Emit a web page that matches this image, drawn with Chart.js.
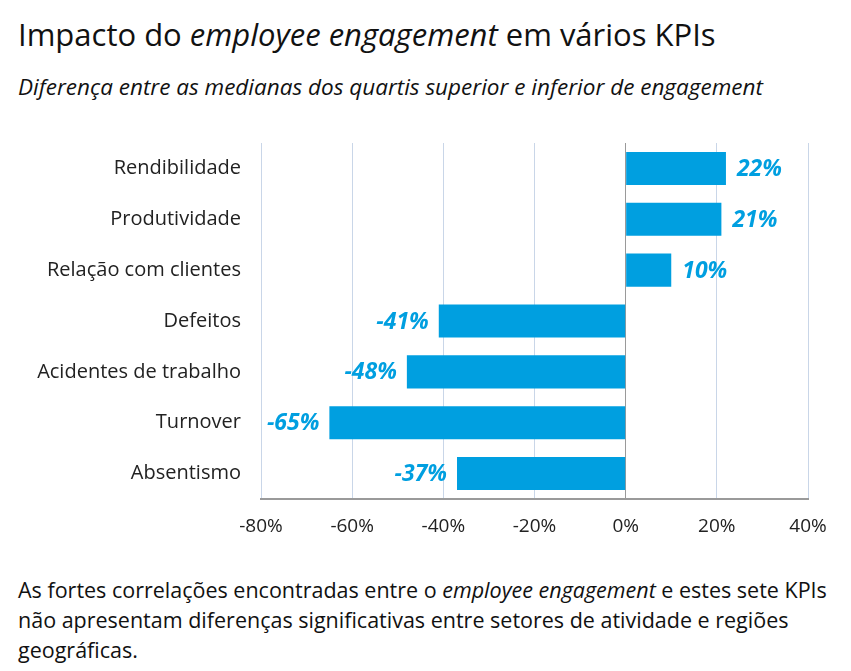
<!DOCTYPE html>
<html><head><meta charset="utf-8">
<script src="https://cdn.jsdelivr.net/npm/chart.js@4"></script>
<style>
html,body{margin:0;padding:0;background:#fff;width:851px;height:671px;overflow:hidden;font-family:"Open Sans","Liberation Sans",sans-serif;color:#111;}
#title{position:absolute;left:18px;top:13px;font-size:31px;white-space:nowrap;}
#sub{position:absolute;left:18px;top:71px;font-size:22.5px;font-style:italic;white-space:nowrap;}
#wrap{position:absolute;left:0;top:111px;width:851px;height:439px;}
#foot{position:absolute;left:18px;top:575px;font-size:21.5px;line-height:30px;white-space:nowrap;}
</style></head>
<body>
<div id="title">Impacto do <i>employee engagement</i> em vários KPIs</div>
<div id="sub">Diferença entre as medianas dos quartis superior e inferior de engagement</div>
<div id="wrap"><canvas id="c"></canvas></div>
<div id="foot">As fortes correlações encontradas entre o <i>employee engagement</i> e estes sete KPIs<br>não apresentam diferenças significativas entre setores de atividade e regiões<br>geográficas.</div>
<script>
const categories = ["Rendibilidade","Produtividade","Relação com clientes","Defeitos","Acidentes de trabalho","Turnover","Absentismo"];
const values = [22,21,10,-41,-48,-65,-37];
const tickValues = [-80,-60,-40,-20,0,20,40];
const barColor = "#009fe0";
const FONT = "'Open Sans', 'Liberation Sans', sans-serif";

const labelPlugin = {
  id:'vlabels',
  afterDatasetsDraw(chart){
    const ctx = chart.ctx;
    const meta = chart.getDatasetMeta(0);
    ctx.save();
    ctx.font = "italic bold 23px " + FONT;
    ctx.fillStyle = barColor;
    ctx.textBaseline = 'middle';
    meta.data.forEach((bar,i)=>{
      const v = values[i];
      const t = v + '%';
      if (v >= 0){ ctx.textAlign='left'; ctx.fillText(t, bar.x + 11, bar.y + 1); }
      else { ctx.textAlign='right'; ctx.fillText(t, bar.x - 10, bar.y + 1); }
    });
    ctx.restore();
  }
};

new Chart(document.getElementById('c'), {
  type:'bar',
  data:{labels:categories, datasets:[{data:values, backgroundColor:barColor, borderWidth:0, categoryPercentage:0.65, barPercentage:1}]},
  options:{
    indexAxis:'y', responsive:true, maintainAspectRatio:false, animation:false,
    layout:{padding:{top:11,right:43,left:0,bottom:0}},
    plugins:{legend:{display:false}, tooltip:{enabled:false}},
    scales:{
      x:{min:-80,max:40,
        afterBuildTicks(s){ s.ticks = tickValues.map(v=>({value:v})); },
        afterFit(s){ s.height = 51; },
        ticks:{callback:v=>v+'%', color:'#222', font:{family:FONT, size:19}, padding:16, maxRotation:0},
        grid:{drawTicks:false, color:ctx=> ctx.tick && ctx.tick.value===0 ? '#9a9a9a' : '#c9d6e8', lineWidth:1},
        border:{display:true, color:'#9a9a9a', width:2}
      },
      y:{
        afterFit(s){ s.width = 261; },
        ticks:{color:'#222', font:{family:FONT, size:20}, padding:20},
        grid:{display:false, drawTicks:false},
        border:{display:false}
      }
    }
  },
  plugins:[labelPlugin]
});
</script>
</body></html>
